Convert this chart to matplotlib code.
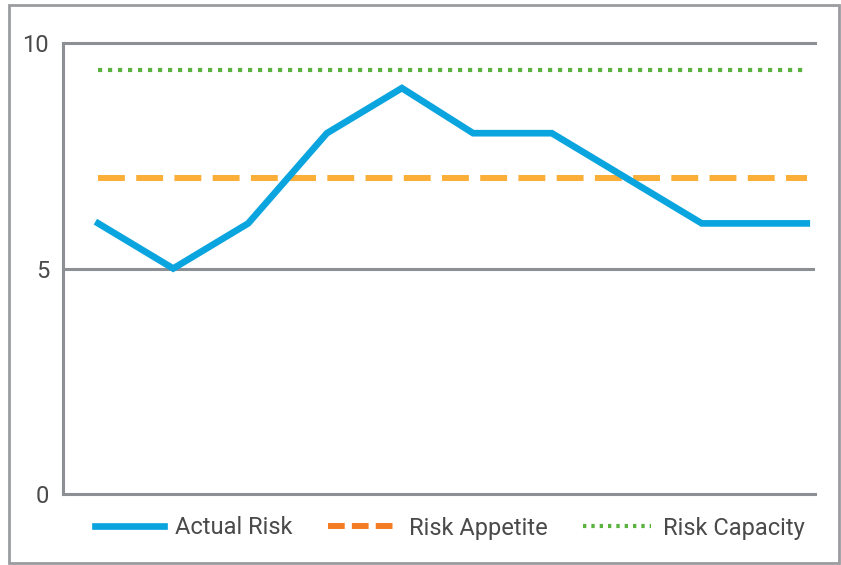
import matplotlib.pyplot as plt
from matplotlib.lines import Line2D
from matplotlib.patches import Rectangle

# data
x_pos = [0, 1, 2, 3.05, 4.05, 5, 6.05, 8.05, 9.45]
actual_risk = [6, 5, 6, 8, 9, 8, 8, 6, 6]
risk_appetite = 7
risk_capacity = 9.4
y_ticks = [0, 5, 10]
labels = ['Actual Risk', 'Risk Appetite', 'Risk Capacity']

blue = '#0AA4DF'
amber = '#FBAE38'
orange = '#F47C22'
green = '#5BB33F'
grey = '#8C8F93'
text_col = '#4A4A4A'

plt.rcParams['font.family'] = ['Roboto', 'DejaVu Sans']

fig = plt.figure(figsize=(8.41, 5.65), dpi=100)
ax = fig.add_axes([63/841, 1-494/565, (815-63)/841, (494-43)/565])

ax.plot(x_pos, actual_risk, color=blue, lw=4.8, solid_joinstyle='miter', zorder=3)
ax.plot([x_pos[0], x_pos[-1]], [risk_appetite]*2, color=amber, lw=4.3,
        dashes=(4.5, 1.9), zorder=2)
ax.plot([x_pos[0], x_pos[-1] - 0.05], [risk_capacity]*2, color=green, lw=3,
        dashes=(1, 1.4), zorder=2)

ax.set_xlim(-0.47, 9.56)
ax.set_ylim(0, 10)
ax.set_xticks([])
ax.set_yticks(y_ticks)
ax.tick_params(axis='y', length=0, pad=10, labelsize=17, labelcolor=text_col)
ax.axhline(5, color=grey, lw=2.2, zorder=1)
for side in ['left', 'top', 'bottom']:
    ax.spines[side].set_color(grey)
    ax.spines[side].set_linewidth(2.2)
ax.spines['right'].set_visible(False)

# outer frame
fig.patches.append(Rectangle((9/841, 1-563/565), 830/841, 558/565, transform=fig.transFigure,
                             fill=False, edgecolor='#9A9C9F', lw=2))

handles = [Line2D([], [], color=blue, lw=4.8),
           Line2D([], [], color=orange, lw=4.3, dashes=(2.8, 1.2)),
           Line2D([], [], color=green, lw=3, dashes=(0.8, 1.2))]
fig.legend(handles, labels, loc='center', bbox_to_anchor=(0.535, 1-528/565), ncol=3,
           frameon=False, fontsize=17, handlelength=2.9, handletextpad=0.5,
           columnspacing=1.5, labelcolor=text_col)

fig.savefig('out.png', dpi=100)
